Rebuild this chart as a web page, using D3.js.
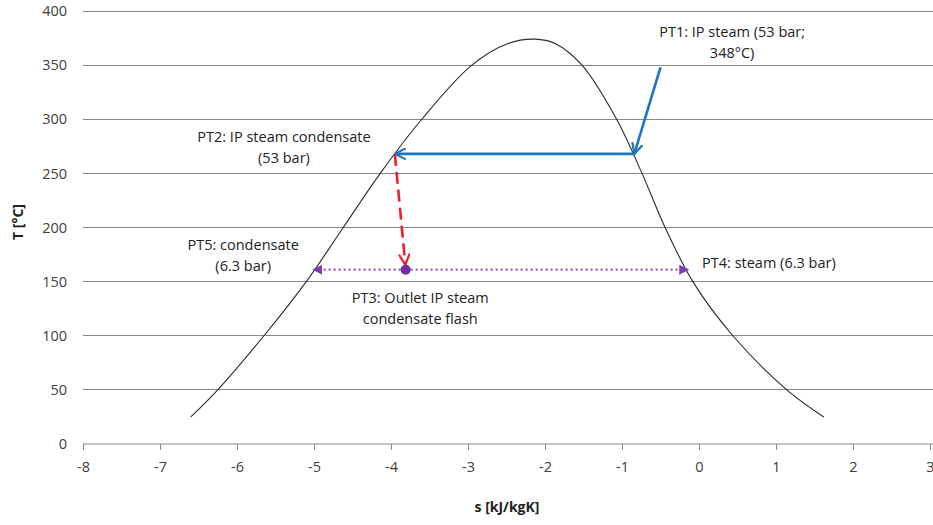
<!DOCTYPE html>
<html>
<head>
<meta charset="utf-8">
<script src="https://cdn.jsdelivr.net/npm/d3@7"></script>
<style>
  html, body { margin: 0; padding: 0; background: #fff; }
  svg { display: block; font-family: "Open Sans", "Liberation Sans", sans-serif; }
</style>
</head>
<body>
<svg id="chart" width="933" height="525"></svg>
<script>
// Saturation dome of water in the T-s plane
const domeS = [-6.60, -6.25, -5.65, -5.10, -4.62, -4.14, -3.60, -2.95, -2.48, -2.13, -1.87, -1.52, -1.07, -0.74, -0.44, -0.08, 0.44, 1.14, 1.62];
const domeT = [25, 50, 100, 150, 200, 250, 300, 350, 370, 374, 370, 350, 300, 250, 200, 150, 100, 50, 25];

// Process states
const pt1 = { s: -0.50, T: 348 };   // IP steam inlet
const pt1b = { s: -0.84, T: 268 };  // saturated vapour at 53 bar
const pt2 = { s: -3.95, T: 268 };   // saturated liquid at 53 bar
const pt3 = { s: -3.81, T: 161 };   // after flash
const pt5 = { s: -5.01, T: 161 };   // saturated liquid at 6.3 bar
const pt4 = { s: -0.14, T: 161 };   // saturated vapour at 6.3 bar

const xTicks = [-8, -7, -6, -5, -4, -3, -2, -1, 0, 1, 2, 3];
const yTicks = [0, 50, 100, 150, 200, 250, 300, 350, 400];

const svg = d3.select("#chart");
const x = d3.scaleLinear().domain([-8, 3]).range([83, 930]);
const y = d3.scaleLinear().domain([0, 400]).range([444, 11]);

// Horizontal gridlines
svg.append("g")
  .selectAll("line")
  .data(yTicks.filter(t => t > 0))
  .join("line")
  .attr("x1", x(-8)).attr("x2", 933)
  .attr("y1", d => y(d)).attr("y2", d => y(d))
  .attr("stroke", "#878787").attr("stroke-width", 1)
  .attr("shape-rendering", "crispEdges");

// Y axis labels (no axis line)
const yAxis = svg.append("g")
  .attr("transform", `translate(${x(-8)},0)`)
  .call(d3.axisLeft(y).tickValues(yTicks).tickSize(0).tickPadding(16).tickFormat(d => String(d)));
yAxis.select(".domain").remove();
yAxis.selectAll("text").attr("font-size", 14.5).attr("fill", "#404040")
  .attr("font-family", "Open Sans, sans-serif");

// X axis
const xAxis = svg.append("g")
  .attr("transform", `translate(0,${y(0)})`)
  .call(d3.axisBottom(x).tickValues(xTicks).tickSize(6).tickPadding(12).tickFormat(d => String(d)));
xAxis.select(".domain").attr("d", `M${x(-8)},0H933`).attr("stroke", "#878787");
xAxis.selectAll(".tick line").attr("stroke", "#878787");
xAxis.selectAll("text").attr("font-size", 14.5).attr("fill", "#404040")
  .attr("font-family", "Open Sans, sans-serif");

// Axis titles
svg.append("text")
  .attr("x", 507).attr("y", 512)
  .attr("text-anchor", "middle")
  .attr("font-size", 14).attr("font-weight", "bold").attr("fill", "#222")
  .text("s [kJ/kgK]");
svg.append("text")
  .attr("transform", "translate(23,222) rotate(-90)")
  .attr("text-anchor", "middle")
  .attr("font-size", 14).attr("font-weight", "bold").attr("fill", "#222")
  .text("T [°C]");

// Dome curve
const domeLine = d3.line()
  .x(d => x(d[0])).y(d => y(d[1]))
  .curve(d3.curveCatmullRom.alpha(0.5));
svg.append("path")
  .datum(domeS.map((s, i) => [s, domeT[i]]))
  .attr("d", domeLine)
  .attr("fill", "none")
  .attr("stroke", "#2a2a2a")
  .attr("stroke-width", 1.1);

// Arrow markers
const defs = svg.append("defs");
function openHead(id, color) {
  defs.append("marker")
    .attr("id", id)
    .attr("viewBox", "0 0 12 12")
    .attr("refX", 11).attr("refY", 6)
    .attr("markerWidth", 12).attr("markerHeight", 12)
    .attr("markerUnits", "userSpaceOnUse")
    .attr("orient", "auto")
    .append("path")
    .attr("d", "M1,1 L11,6 L1,11")
    .attr("fill", "none").attr("stroke", color).attr("stroke-width", 2.2)
    .attr("stroke-linecap", "round").attr("stroke-linejoin", "round");
}
function filledHead(id, color) {
  defs.append("marker")
    .attr("id", id)
    .attr("viewBox", "0 0 10 10")
    .attr("refX", 9).attr("refY", 5)
    .attr("markerWidth", 10).attr("markerHeight", 10)
    .attr("markerUnits", "userSpaceOnUse")
    .attr("orient", "auto")
    .append("path")
    .attr("d", "M0,0 L10,5 L0,10 Z")
    .attr("fill", color);
}
openHead("headBlue", "#1e73c3");
openHead("headRed", "#e8232a");
filledHead("headPurple", "#7a3fb0");

function arrow(a, b, style) {
  const p = svg.append("line")
    .attr("x1", x(a.s)).attr("y1", y(a.T))
    .attr("x2", x(b.s)).attr("y2", y(b.T))
    .attr("fill", "none");
  Object.entries(style).forEach(([k, v]) => p.attr(k, v));
  return p;
}

// Purple flash lines (dotted) to both saturation states
arrow(pt3, pt5, { stroke: "#8b5cc4", "stroke-width": 2.2, "stroke-dasharray": "2,3", "marker-end": "url(#headPurple)" });
arrow(pt3, pt4, { stroke: "#8b5cc4", "stroke-width": 2.2, "stroke-dasharray": "2,3", "marker-end": "url(#headPurple)" });

// Blue: steam inlet to saturation, then condensation
arrow(pt1, pt1b, { stroke: "#1e73c3", "stroke-width": 2.6, "marker-end": "url(#headBlue)" });
arrow(pt1b, pt2, { stroke: "#1e73c3", "stroke-width": 2.6, "marker-end": "url(#headBlue)" });

// Red dashed: flash expansion
const pt3Top = { s: pt3.s - 0.004, T: pt3.T + 4.5 };
arrow(pt2, pt3Top, { stroke: "#e8232a", "stroke-width": 2.6, "stroke-dasharray": "12,6", "marker-end": "url(#headRed)" });

// Flash state marker
svg.append("circle")
  .attr("cx", x(pt3.s)).attr("cy", y(pt3.T))
  .attr("r", 5).attr("fill", "#7030a0");

// Annotations
const labels = [
  { s: 0.43, T: 376, anchor: "middle", lines: ["PT1: IP steam (53 bar;", "348°C)"] },
  { s: -5.39, T: 279, anchor: "middle", lines: ["PT2: IP steam condensate", "(53 bar)"] },
  { s: -5.92, T: 179, anchor: "middle", lines: ["PT5: condensate", "(6.3 bar)"] },
  { s: -3.62, T: 130, anchor: "middle", lines: ["PT3: Outlet IP steam", "condensate flash"] },
  { s: 0.04, T: 163, anchor: "start", lines: ["PT4: steam (6.3 bar)"] }
];
labels.forEach(l => {
  const t = svg.append("text")
    .attr("x", x(l.s)).attr("y", y(l.T))
    .attr("text-anchor", l.anchor)
    .attr("font-size", 14.5).attr("fill", "#222");
  l.lines.forEach((line, i) => {
    t.append("tspan").attr("x", x(l.s)).attr("dy", i === 0 ? 0 : 21).text(line);
  });
});
</script>
</body>
</html>
